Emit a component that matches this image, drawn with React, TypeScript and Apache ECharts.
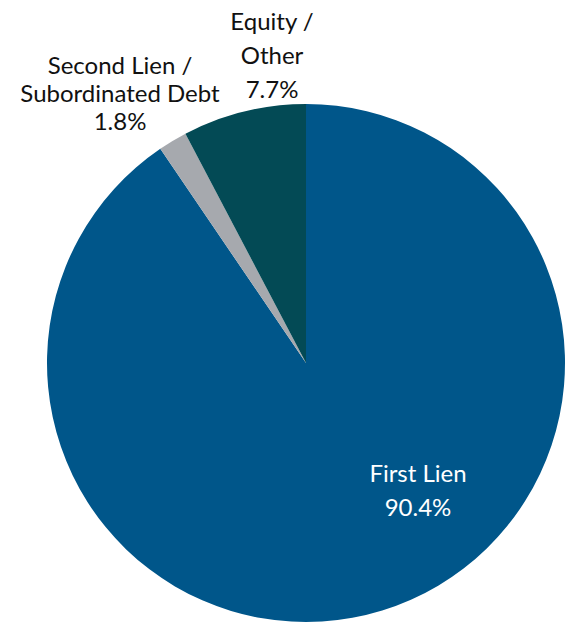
import React, { useEffect, useRef } from "react";
import * as echarts from "echarts";

const categories = ["First Lien", "Second Lien /\nSubordinated Debt", "Equity /\nOther"];
const values = [90.4, 1.8, 7.7];
const colors = ["#00568A", "#A6A9AE", "#034A55"];

export default function App() {
  const ref = useRef<HTMLDivElement>(null);
  useEffect(() => {
    const chart = echarts.init(ref.current!, null, { renderer: "svg" });
    const labelPos = [
      { x: 418, y: 489, color: "#ffffff", lh: 34 },
      { x: 120, y: 92, color: "#111111", lh: 28 },
      { x: 272, y: 54, color: "#111111", lh: 34 },
    ];
    chart.setOption({
      animation: false,
      series: [
        {
          type: "pie",
          center: [306, 363],
          radius: [0, 259],
          startAngle: 90,
          clockwise: true,
          avoidLabelOverlap: false,
          itemStyle: { borderWidth: 0 },
          label: {
            show: true,
            position: "outside",
            fontFamily: "Lato",
            fontSize: 24,
            fontWeight: 400,
            align: "center",
            formatter: (p: any) => `${p.name}\n${p.value.toFixed(1)}%`,
          },
          labelLine: { show: false },
          labelLayout: (p: any) => ({
            x: labelPos[p.dataIndex].x,
            y: labelPos[p.dataIndex].y,
            align: "center",
            verticalAlign: "middle",
          }),
          data: categories.map((c, i) => ({
            name: c,
            value: values[i],
            itemStyle: { color: colors[i] },
            label: { color: labelPos[i].color, lineHeight: labelPos[i].lh },
          })),
        },
      ],
    });
    return () => chart.dispose();
  }, []);
  return (
    <div
      ref={ref}
      style={{ position: "absolute", left: 0, top: 0, width: 567, height: 624 }}
    />
  );
}
